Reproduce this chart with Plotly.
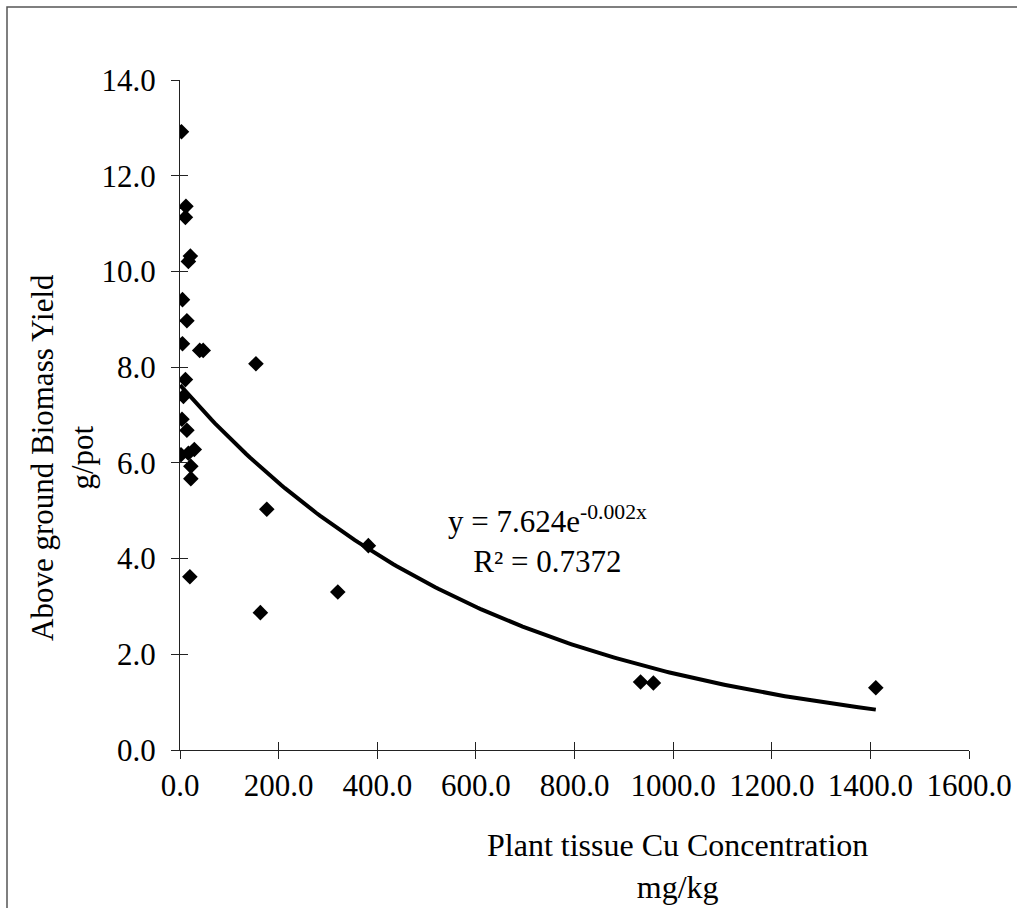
import plotly.graph_objects as go
import numpy as np

# Data
cu_conc = [3, 12, 11, 21, 17, 5, 14, 5, 40, 47, 154, 11, 7, 4, 14, 2, 29, 17,
           22, 22, 176, 20, 163, 320, 382, 934, 960, 1411]
biomass = [12.92, 11.36, 11.13, 10.32, 10.21, 9.41, 8.97, 8.49, 8.35, 8.35, 8.07,
           7.74, 7.39, 6.91, 6.68, 6.17, 6.28, 6.2, 5.93, 5.67, 5.03, 3.62, 2.87,
           3.30, 4.27, 1.42, 1.40, 1.30]

# Exponential trendline y = a * exp(b x) (displayed rounded as 7.624e^-0.002x)
TREND_A = 7.624
TREND_B = -0.00156
R2 = 0.7372

x_ticks = [0, 200, 400, 600, 800, 1000, 1200, 1400, 1600]
y_ticks = [0, 2, 4, 6, 8, 10, 12, 14]

FONT = "Liberation Serif, Times New Roman, serif"
FS_TICK = 31
FS_TITLE = 32

trend_x = np.linspace(0, max(cu_conc), 200)
trend_y = TREND_A * np.exp(TREND_B * trend_x)

fig = go.Figure()
fig.add_trace(go.Scatter(x=trend_x, y=trend_y, mode="lines",
                         line=dict(color="black", width=4), hoverinfo="skip",
                         showlegend=False))
fig.add_trace(go.Scatter(x=cu_conc, y=biomass, mode="markers",
                         marker=dict(symbol="diamond", size=12, color="black"),
                         showlegend=False))
# dummy trace for overlay axes (inside tick marks)
fig.add_trace(go.Scatter(x=[0], y=[0], xaxis="x2", yaxis="y2", mode="markers",
                         marker=dict(opacity=0), showlegend=False,
                         hoverinfo="skip"))

L, R, T, B = 180, 48, 80, 158
W, H = 1017, 908
pw, ph = W - L - R, H - T - B


def px(xp):
    return (xp - L) / pw


def py(yp):
    return (H - B - yp) / ph


axis_common = dict(showgrid=False, zeroline=False, showline=True,
                   linecolor="#222", linewidth=1, ticks="outside", ticklen=8,
                   tickcolor="#222", tickwidth=1, automargin=False,
                   tickfont=dict(family=FONT, size=FS_TICK, color="black"))

fig.update_layout(
    width=W, height=H,
    margin=dict(l=L, r=R, t=T, b=B, autoexpand=False),
    paper_bgcolor="white", plot_bgcolor="white",
    xaxis=dict(range=[0, 1600], tickvals=x_ticks,
               ticktext=[f"{v:.1f}" for v in x_ticks], **axis_common),
    yaxis=dict(range=[0, 14], tickvals=y_ticks,
               ticktext=[f"{v:.1f}" for v in y_ticks],
               ticklabelstandoff=9, **axis_common),
    xaxis2=dict(range=[0, 1600], overlaying="x", anchor="y2", side="bottom",
                tickvals=x_ticks, showticklabels=False, ticks="inside",
                ticklen=8, tickcolor="#222", showgrid=False, zeroline=False,
                showline=False),
    yaxis2=dict(range=[0, 14], overlaying="y", anchor="x2", side="left",
                tickvals=y_ticks, showticklabels=False, ticks="inside",
                ticklen=8, tickcolor="#222", showgrid=False, zeroline=False,
                showline=False),
    font=dict(family=FONT, size=FS_TICK, color="black"),
)

fig.add_annotation(text="Above ground Biomass Yield<br>g/pot", textangle=-90,
                   xref="paper", yref="paper", x=px(62), y=py(457),
                   xanchor="center", yanchor="middle", showarrow=False,
                   font=dict(family=FONT, size=FS_TITLE - 1, color="black"))
fig.add_annotation(text="Plant tissue Cu Concentration<br>mg/kg",
                   xref="paper", yref="paper", x=px(677), y=py(866),
                   xanchor="center", yanchor="middle", showarrow=False,
                   font=dict(family=FONT, size=FS_TITLE, color="black"))
fig.add_annotation(text=f"y = {TREND_A}e<sup>-0.002x</sup><br>R² = {R2}",
                   xref="paper", yref="paper", x=px(547), y=py(539),
                   xanchor="center", yanchor="middle", showarrow=False,
                   font=dict(family=FONT, size=FS_TICK, color="black"))

# outer frame
fig.add_shape(type="rect", xref="paper", yref="paper",
              x0=px(7), x1=px(1040), y0=py(930), y1=py(7),
              line=dict(color="#555", width=1.5), layer="below")

fig.write_html("out.html")
